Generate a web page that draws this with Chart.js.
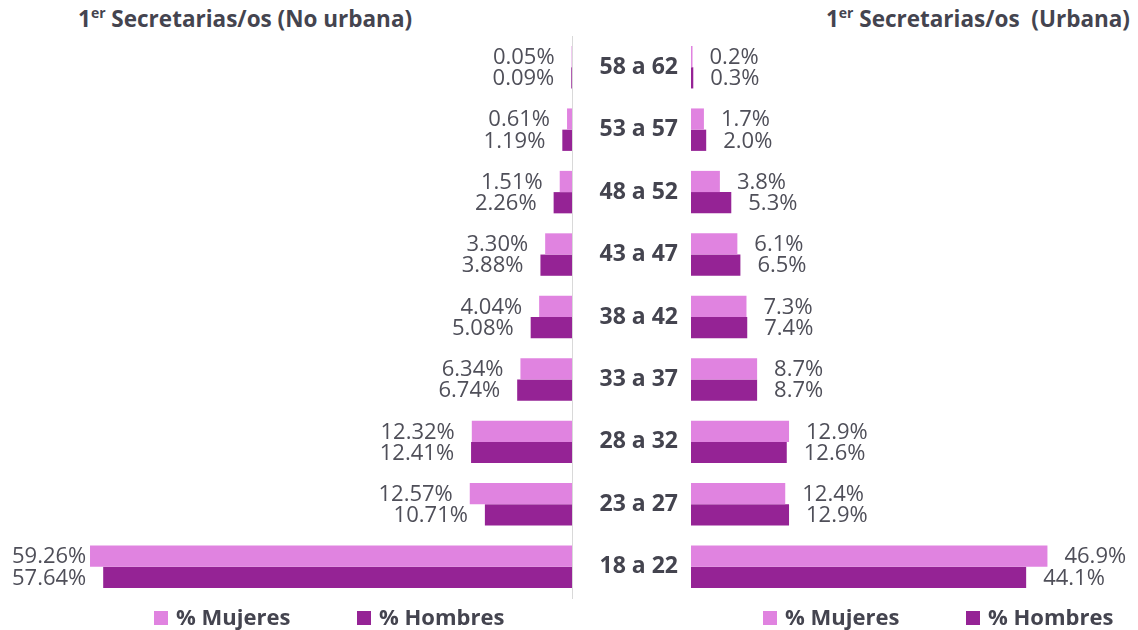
<!DOCTYPE html>
<html>
<head>
<meta charset="utf-8">
<script src="https://cdn.jsdelivr.net/npm/chart.js@4.4.1/dist/chart.umd.min.js"></script>
<style>
  html, body { margin: 0; padding: 0; background: #fff; }
  #wrap { position: relative; width: 1138px; height: 630px; font-family: 'Open Sans', sans-serif; }
  #wrap canvas { position: absolute; left: 0; top: 0; }
  .title { position: absolute; top: 3px; font-weight: 700; font-size: 22.5px; color: #44444f; white-space: pre; }
  .title sup { font-size: 14px; vertical-align: baseline; position: relative; top: -9px; }
</style>
</head>
<body>
<div id="wrap">
  <div class="title" style="left:78px">1<sup>er</sup> Secretarias/os (No urbana)</div>
  <div class="title" style="right:8px">1<sup>er</sup> Secretarias/os  (Urbana)</div>
  <canvas id="chart-no-urbana" width="1138" height="630"></canvas>
  <canvas id="chart-urbana" width="1138" height="630"></canvas>
</div>
<script>
( function () {
	'use strict';

	// Age groups, top to bottom
	const AGES = [ '58 a 62', '53 a 57', '48 a 52', '43 a 47', '38 a 42', '33 a 37', '28 a 32', '23 a 27', '18 a 22' ];

	// No urbana (%)
	const ruralMujeres = [ 0.05, 0.61, 1.51, 3.30, 4.04, 6.34, 12.32, 12.57, 59.26 ];
	const ruralHombres = [ 0.09, 1.19, 2.26, 3.88, 5.08, 6.74, 12.41, 10.71, 57.64 ];

	// Urbana (%)
	const urbanMujeres = [ 0.2, 1.7, 3.8, 6.1, 7.3, 8.7, 12.9, 12.4, 46.9 ];
	const urbanHombres = [ 0.3, 2.0, 5.3, 6.5, 7.4, 8.7, 12.6, 12.9, 44.1 ];

	const MUJERES = '#e083e0';
	const HOMBRES = '#952395';
	const TEXT    = '#44444f';
	const LABEL   = '#4f4f59';
	const FONT    = "'Open Sans', sans-serif";

	// value labels at the end of each bar, kept inside the canvas like Excel does
	const barLabels = {
		id: 'barLabels',
		afterDatasetsDraw( chart, args, opts ) {
			const ctx = chart.ctx;
			ctx.save();
			ctx.font = '400 22px ' + FONT;
			ctx.fillStyle = LABEL;
			ctx.textBaseline = 'middle';
			ctx.textAlign = 'left';
			chart.data.datasets.forEach( ( ds, i ) => {
				chart.getDatasetMeta( i ).data.forEach( ( bar, j ) => {
					const txt = ds.data[ j ].toFixed( opts.decimals ) + '%';
					const w = ctx.measureText( txt ).width;
					let x = opts.side === 'left' ? bar.x - opts.offset - w : bar.x + opts.offset;
					x = Math.max( opts.minX || 0, x );
					ctx.fillText( txt, x, bar.y + 1 );
				} );
			} );
			ctx.restore();
		},
	};

	// legend row with wide item spacing (Excel style)
	const legendRow = {
		id: 'legendRow',
		afterDraw( chart, args, opts ) {
			const ctx = chart.ctx;
			ctx.save();
			ctx.font = 'bold 22px ' + FONT;
			ctx.textBaseline = 'middle';
			ctx.textAlign = 'left';
			chart.data.datasets.forEach( ( ds, i ) => {
				const x = opts.x + i * opts.step;
				ctx.fillStyle = ds.backgroundColor;
				ctx.fillRect( x, opts.y - 7, 14, 14 );
				ctx.fillStyle = TEXT;
				ctx.fillText( ds.label, x + 22, opts.y + 1 );
			} );
			ctx.restore();
		},
	};

	const datasets = ( m, h ) => [
		{ label: '% Mujeres', data: m, backgroundColor: MUJERES },
		{ label: '% Hombres', data: h, backgroundColor: HOMBRES },
	];

	const base = {
		indexAxis: 'y',
		responsive: false,
		animation: false,
		datasets: { bar: { categoryPercentage: 0.68, barPercentage: 1 } },
	};

	// -----------------------------------------------------------------------
	// No urbana (bars grow to the left)
	// -----------------------------------------------------------------------
	new Chart( document.getElementById( 'chart-no-urbana' ), {
		type: 'bar',
		data: { labels: AGES, datasets: datasets( ruralMujeres, ruralHombres ) },
		options: {
			...base,
			layout: { padding: { left: 84, right: 566, top: 36, bottom: 32 } },
			scales: {
				x: { display: false, reverse: true, min: 0, max: 60 },
				y: {
					position: 'right',
					grid: { display: false, drawTicks: false },
					ticks: { display: false },
					border: { display: true, color: '#d9d9d9', width: 1 },
					afterFit: s => { s.width = 0; },
				},
			},
			plugins: {
				legend: { display: false },
				tooltip: { enabled: false },
				barLabels: { side: 'left', decimals: 2, offset: 17, minX: 12 },
				legendRow: { x: 154, step: 203, y: 618 },
			},
		},
		plugins: [ barLabels, legendRow ],
	} );

	// -----------------------------------------------------------------------
	// Urbana (bars grow to the right, age labels on its axis)
	// -----------------------------------------------------------------------
	new Chart( document.getElementById( 'chart-urbana' ), {
		type: 'bar',
		data: { labels: AGES, datasets: datasets( urbanMujeres, urbanHombres ) },
		options: {
			...base,
			layout: { padding: { left: 581, right: 67, top: 36, bottom: 32 } },
			scales: {
				x: { display: false, min: 0, max: 50 },
				y: {
					grid: { display: false, drawTicks: false },
					border: { display: false },
					ticks: { color: TEXT, padding: 13, font: { family: FONT, size: 23, weight: 'bold' } },
					afterFit: s => { s.width = 110; },
				},
			},
			plugins: {
				legend: { display: false },
				tooltip: { enabled: false },
				barLabels: { side: 'right', decimals: 1, offset: 17 },
				legendRow: { x: 763, step: 203, y: 618 },
			},
		},
		plugins: [ barLabels, legendRow ],
	} );

} )();
</script>
</body>
</html>
